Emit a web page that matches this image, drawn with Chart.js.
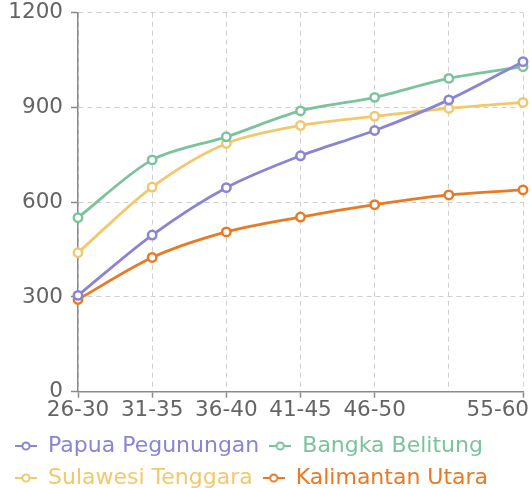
<!DOCTYPE html>
<html>
<head>
<meta charset="utf-8">
<script src="https://cdn.jsdelivr.net/npm/chart.js@4/dist/chart.umd.min.js"></script>
<style>
html,body{margin:0;padding:0;background:#fff;}
#wrap{width:531px;height:488px;position:relative;}
</style>
</head>
<body>
<div id="wrap"><canvas id="c"></canvas></div>
<script>
const categories = ['26-30','31-35','36-40','41-45','46-50','51-55','55-60'];
const tickLabels = ['26-30','31-35','36-40','41-45','46-50','','55-60'];
const papuaPegunungan = [305, 496, 646, 747, 827, 924, 1045];
const bangkaBelitung = [551, 734, 807, 889, 932, 992, 1029];
const sulawesiTenggara = [440, 648, 786, 843, 872, 897, 916];
const kalimantanUtara = [292, 425, 506, 553, 592, 623, 639];
const seriesNames = ['Papua Pegunungan','Bangka Belitung','Sulawesi Tenggara','Kalimantan Utara'];
const seriesColors = ['#8a84d3','#7cc39d','#f2c86a','#e97a24'];
const yTicks = [0, 300, 600, 900, 1200];

const FONT = '"DejaVu Sans", sans-serif';
const AXIS_TEXT = '#646464';
const X_TICK_LEN = 6, X_TICK_PAD = 1.5, X_FONT = 21.5, X_LH = 1.0, X_HEIGHT = 33.3;

function legendMarker(color){
  const c = document.createElement('canvas');
  c.width = 22; c.height = 12;
  const g = c.getContext('2d');
  g.strokeStyle = color; g.lineWidth = 2;
  g.beginPath(); g.moveTo(0,6); g.lineTo(22,6); g.stroke();
  g.fillStyle = '#fff';
  g.beginPath(); g.arc(11,6,3.6,0,Math.PI*2); g.fill(); g.stroke();
  return c;
}
const markers = seriesColors.map(legendMarker);

const seriesData = [papuaPegunungan, bangkaBelitung, sulawesiTenggara, kalimantanUtara];
const datasets = seriesNames.map((n,i)=>({
  label: n,
  data: seriesData[i],
  borderColor: seriesColors[i],
  backgroundColor: '#ffffff',
  borderWidth: 2.8,
  pointRadius: 4.2,
  pointBorderWidth: 2.5,
  pointBackgroundColor: '#ffffff',
  pointBorderColor: seriesColors[i],
  tension: 0.3,
  fill: false
}));

const lastLabelPlugin = {
  id: 'lastLabel',
  afterDraw(chart){
    const s = chart.scales.x;
    const ctx = chart.ctx;
    ctx.save();
    ctx.font = X_FONT + 'px ' + FONT;
    ctx.fillStyle = AXIS_TEXT;
    ctx.textAlign = 'right';
    ctx.textBaseline = 'middle';
    ctx.fillText(tickLabels[tickLabels.length-1], chart.width - 2, s.top + X_TICK_LEN + X_TICK_PAD + X_FONT*X_LH/2);
    ctx.restore();
  }
};

new Chart(document.getElementById('c'), {
  type: 'line',
  data: { labels: categories, datasets },
  plugins: [lastLabelPlugin],
  options: {
    responsive: true,
    maintainAspectRatio: false,
    animation: false,
    layout: { padding: { left: 5, right: 8, top: 0, bottom: -11 } },
    plugins: {
      tooltip: { enabled: false },
      legend: {
        position: 'bottom',
        align: 'start',
        labels: {
          usePointStyle: true,
          pointStyleWidth: 22,
          padding: 10,
          font: { family: FONT, size: 22 },
          generateLabels(chart){
            const items = Chart.defaults.plugins.legend.labels.generateLabels(chart);
            items.forEach((it,i)=>{ it.pointStyle = markers[i]; it.fontColor = seriesColors[i]; });
            return items;
          }
        }
      }
    },
    scales: {
      x: {
        offset: false,
        afterFit(scale){ scale.paddingRight = 0; scale.height = X_HEIGHT; },
        grid: {
          color: '#cfcfcf',
          lineWidth: 1,
          tickLength: X_TICK_LEN,
          tickColor: (ctx)=> ctx.index === 5 ? 'rgba(0,0,0,0)' : '#8a8a8a',
          tickWidth: 1.5
        },
        border: { display: true, color: '#8a8a8a', width: 1.5, dash: [5,4] },
        ticks: {
          autoSkip: false,
          maxRotation: 0,
          padding: X_TICK_PAD,
          font: { family: FONT, size: X_FONT, lineHeight: X_LH },
          color: (ctx)=> ctx.index === tickLabels.length-1 ? 'rgba(0,0,0,0)' : AXIS_TEXT,
          callback: (v, i)=> tickLabels[i]
        }
      },
      y: {
        min: yTicks[0],
        max: yTicks[yTicks.length-1],
        afterFit(scale){ scale.width = 73; scale.paddingTop = 12.7; },
        afterBuildTicks(scale){ scale.ticks = yTicks.map(v=>({value:v})); },
        grid: {
          color: '#cfcfcf',
          lineWidth: 1,
          tickLength: 7,
          tickColor: '#8a8a8a',
          tickWidth: 1.5
        },
        border: { display: true, color: '#8a8a8a', width: 1.5, dash: [5,4] },
        ticks: {
          padding: 8,
          font: { family: FONT, size: 21.5 },
          color: AXIS_TEXT,
          callback: (v)=> String(v)
        }
      }
    }
  }
});
</script>
</body>
</html>
